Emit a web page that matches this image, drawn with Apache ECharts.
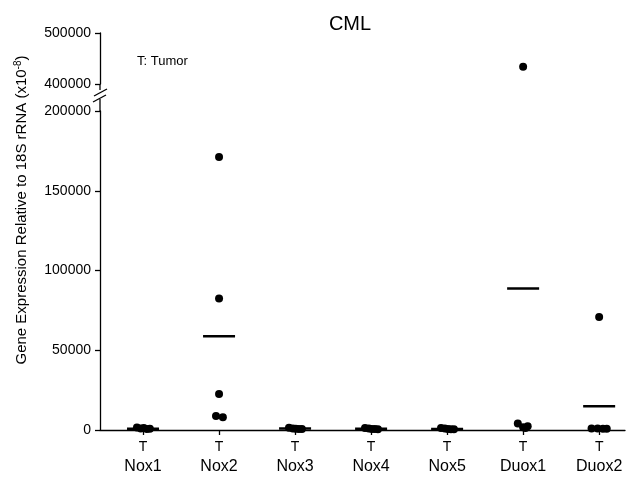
<!DOCTYPE html>
<html>
<head>
<meta charset="utf-8">
<script src="https://cdn.jsdelivr.net/npm/echarts@6/dist/echarts.min.js"></script>
<style>
  html, body { margin: 0; padding: 0; background: #fff; }
  #chart { width: 638px; height: 484px; }
</style>
</head>
<body>
<div id="chart"></div>
<script>

var genes = ['Nox1', 'Nox2', 'Nox3', 'Nox4', 'Nox5', 'Duox1', 'Duox2'];
var groupTag = 'T';

// sample values per gene (x10^-8)
var nox1 = [1500, 900, 1200, 600, 800];
var nox2 = [171200, 82400, 22600, 8800, 8000];
var nox3 = [1400, 1000, 800, 700, 600];
var nox4 = [1300, 1000, 700, 600, 500];
var nox5 = [1200, 900, 600, 500, 400];
var duox1 = [433900, 4000, 2300, 1800, 1300];
var duox2 = [70850, 1000, 900, 800, 750];
var samples = [nox1, nox2, nox3, nox4, nox5, duox1, duox2];

// horizontal mean bars
var means = [800, 58750, 900, 800, 700, 88660, 14860];

// y ticks
var upperTicks = [400000, 500000];
var lowerTicks = [0, 50000, 100000, 150000, 200000];

// small sideways offsets so overlapping dots spread out (category units)
var jitter = [
    [-0.08, -0.03, 0.01, 0.05, 0.09],
    [0, 0, 0, -0.04, 0.05],
    [-0.08, -0.03, 0.01, 0.05, 0.09],
    [-0.08, -0.03, 0.01, 0.05, 0.09],
    [-0.08, -0.03, 0.01, 0.05, 0.09],
    [0, -0.07, 0.06, 0, 0.03],
    [0, -0.1, -0.02, 0.05, 0.1]
];

var xMin = -0.566, xMax = 6.34;
var breakAt = 200000;

var lowPts = [], highPts = [];
for (var i = 0; i < samples.length; i++) {
    for (var j = 0; j < samples[i].length; j++) {
        var pt = [i + jitter[i][j], samples[i][j]];
        if (samples[i][j] > breakAt) highPts.push(pt);
        else lowPts.push(pt);
    }
}
var meanPts = means.map(function (m, i) { return [i, m]; });

var font = 'Liberation Sans, Arial, Helvetica, sans-serif';
var yLine = { show: true, onZero: false, lineStyle: { color: '#000', width: 1.3 } };
var yTick = { show: true, length: 5, lineStyle: { color: '#000', width: 1.3 } };
var yLabel = {
    color: '#000', fontSize: 14, fontFamily: font, margin: 9,
    formatter: function (v) { return String(v); }
};

var chart = echarts.init(document.getElementById('chart'), null, { renderer: 'canvas' });

var option = {
    backgroundColor: '#fff',
    animation: false,
    title: {
        text: 'CML',
        left: 345, top: 9,
        textAlign: 'center',
        textStyle: { color: '#000', fontSize: 20, fontWeight: 'normal', fontFamily: font }
    },
    grid: [
        { left: 100, right: 13, top: 33, height: 51 },
        { left: 100, right: 13, top: 111, height: 319 }
    ],
    xAxis: [
        { gridIndex: 0, type: 'value', min: xMin, max: xMax, show: false },
        {
            gridIndex: 1, type: 'value', min: xMin, max: xMax,
            axisLine: { show: true, onZero: false, lineStyle: { color: '#000', width: 1.3 } },
            axisTick: { show: true, length: 5, customValues: [0, 1, 2, 3, 4, 5, 6], lineStyle: { color: '#000', width: 1.3 } },
            axisLabel: {
                customValues: [0, 1, 2, 3, 4, 5, 6],
                margin: 8,
                formatter: function (v) {
                    var k = Math.round(v);
                    return '{t|' + groupTag + '}\n{n|' + genes[k] + '}';
                },
                rich: {
                    t: { fontSize: 14, lineHeight: 18, color: '#000', fontFamily: font },
                    n: { fontSize: 16, lineHeight: 22, color: '#000', fontFamily: font }
                }
            },
            splitLine: { show: false }
        }
    ],
    yAxis: [
        {
            gridIndex: 0, type: 'value', min: upperTicks[0], max: upperTicks[upperTicks.length - 1],
            interval: 100000,
            axisLine: yLine, axisTick: yTick, axisLabel: yLabel, splitLine: { show: false }
        },
        {
            gridIndex: 1, type: 'value', min: lowerTicks[0], max: lowerTicks[lowerTicks.length - 1],
            interval: 50000,
            axisLine: yLine, axisTick: yTick, axisLabel: yLabel, splitLine: { show: false }
        }
    ],
    series: [
        {
            type: 'scatter', xAxisIndex: 1, yAxisIndex: 1, data: lowPts,
            symbol: 'circle', symbolSize: 8, itemStyle: { color: '#000', opacity: 1 }, z: 5
        },
        {
            type: 'scatter', xAxisIndex: 0, yAxisIndex: 0, data: highPts,
            symbol: 'circle', symbolSize: 8, itemStyle: { color: '#000', opacity: 1 }, z: 5
        },
        {
            type: 'scatter', xAxisIndex: 1, yAxisIndex: 1, data: meanPts,
            symbol: 'rect', symbolSize: [32, 2.5], itemStyle: { color: '#000', opacity: 1 }, z: 6
        }
    ],
    graphic: [
        {
            type: 'text', left: 137, top: 55,
            style: { text: 'T: Tumor', fill: '#000', font: '13px ' + font }
        },
        {
            type: 'text', x: 22, y: 210, rotation: Math.PI / 2,
            style: {
                text: 'Gene Expression Relative to 18S rRNA (x10{sup|-8})',
                fill: '#000', font: '15px ' + font,
                align: 'center', verticalAlign: 'middle',
                rich: { sup: { fontSize: 10, verticalAlign: 'top', padding: [0, 0, 8, 0], fill: '#000', fontFamily: font } }
            }
        },
        // axis break marks
        { type: 'line', shape: { x1: 100, y1: 84, x2: 100, y2: 90 }, style: { stroke: '#000', lineWidth: 1.3 } },
        { type: 'line', shape: { x1: 100, y1: 99, x2: 100, y2: 111 }, style: { stroke: '#000', lineWidth: 1.3 } },
        { type: 'line', shape: { x1: 94, y1: 96, x2: 107, y2: 89 }, style: { stroke: '#000', lineWidth: 1.3 } },
        { type: 'line', shape: { x1: 93, y1: 102, x2: 106, y2: 95 }, style: { stroke: '#000', lineWidth: 1.3 } }
    ]
};

chart.setOption(option);
</script>
</body>
</html>
